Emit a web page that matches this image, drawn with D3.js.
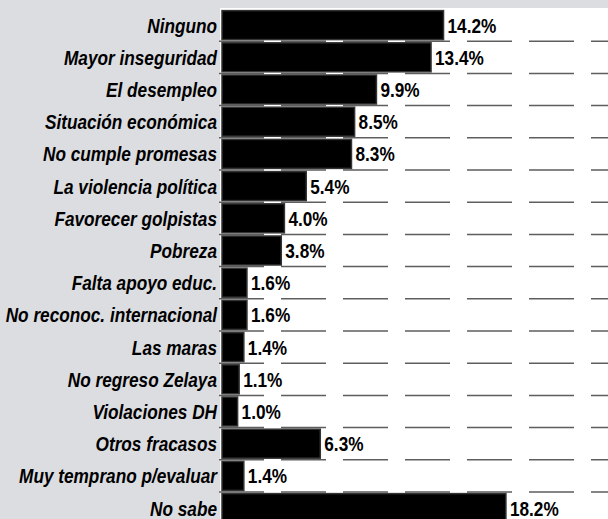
<!doctype html>
<html>
<head>
<meta charset="utf-8">
<script src="https://d3js.org/d3.v7.min.js"></script>
<style>
  body { margin: 0; background: #dcdde1; }
  svg { display: block; }
  .cat { font-family: "Liberation Sans", Arial, sans-serif; font-weight: bold; font-style: italic; font-size: 21px; fill: #000; }
  .val { font-family: "Liberation Sans", Arial, sans-serif; font-weight: bold; font-size: 21px; fill: #000; }
</style>
</head>
<body>
<svg width="608" height="519"></svg>
<script>
// categories top to bottom, with the share (%) of each answer
var categories = ["Ninguno", "Mayor inseguridad", "El desempleo", "Situación económica",
  "No cumple promesas", "La violencia política", "Favorecer golpistas", "Pobreza",
  "Falta apoyo educ.", "No reconoc. internacional", "Las maras", "No regreso Zelaya",
  "Violaciones DH", "Otros fracasos", "Muy temprano p/evaluar", "No sabe"];
var values = [14.2, 13.4, 9.9, 8.5, 8.3, 5.4, 4.0, 3.8, 1.6, 1.6, 1.4, 1.1, 1.0, 6.3, 1.4, 18.2];

var svg = d3.select("svg"),
    plotLeft = 220, plotTop = 9,
    squeeze = 0.82; // the original uses a narrow face

var x = d3.scaleLinear().domain([0, 25]).range([plotLeft + 2, plotLeft + 2 + 25 * 15.6]);
var y = d3.scaleBand().domain(categories).range([plotTop, plotTop + 16 * 32.2])
    .paddingInner(0.1).paddingOuter(0.05);

// white plot area
svg.append("rect")
   .attr("x", plotLeft).attr("y", plotTop - 1)
   .attr("width", 608 - plotLeft).attr("height", 519 - plotTop + 1)
   .attr("fill", "#fff");

// dashed separators between rows
var step = y.step();
svg.selectAll(".grid")
   .data(categories.slice(1))
   .enter().append("line")
   .attr("x1", plotLeft - 1).attr("x2", 608)
   .attr("y1", function(d) { return y(d) - step * 0.05; })
   .attr("y2", function(d) { return y(d) - step * 0.05; })
   .attr("stroke", "#5e5e5e")
   .attr("stroke-width", 1.5)
   .attr("stroke-dasharray", "45,17");

var data = categories.map(function(c, i) { return { cat: c, v: values[i] }; });

svg.selectAll(".bar")
   .data(data)
   .enter().append("rect")
   .attr("x", x(0))
   .attr("y", function(d) { return y(d.cat); })
   .attr("width", function(d) { return x(d.v) - x(0); })
   .attr("height", y.bandwidth())
   .attr("fill", "#000")
   .attr("stroke", "#333")
   .attr("stroke-width", 1.5);

svg.selectAll(".val")
   .data(data)
   .enter().append("text")
   .attr("class", "val")
   .attr("transform", function(d) {
       return "translate(" + (x(d.v) + 4) + "," + (y(d.cat) + y.bandwidth() / 2) + ") scale(" + squeeze + ",1)";
   })
   .attr("dy", "0.36em")
   .text(function(d) { return d.v.toFixed(1) + "%"; });

svg.selectAll(".cat")
   .data(data)
   .enter().append("text")
   .attr("class", "cat")
   .attr("transform", function(d) {
       return "translate(" + (plotLeft - 3) + "," + (y(d.cat) + y.bandwidth() / 2) + ") scale(" + squeeze + ",1)";
   })
   .attr("dy", "0.36em")
   .attr("text-anchor", "end")
   .text(function(d) { return d.cat; });
</script>
</body>
</html>
